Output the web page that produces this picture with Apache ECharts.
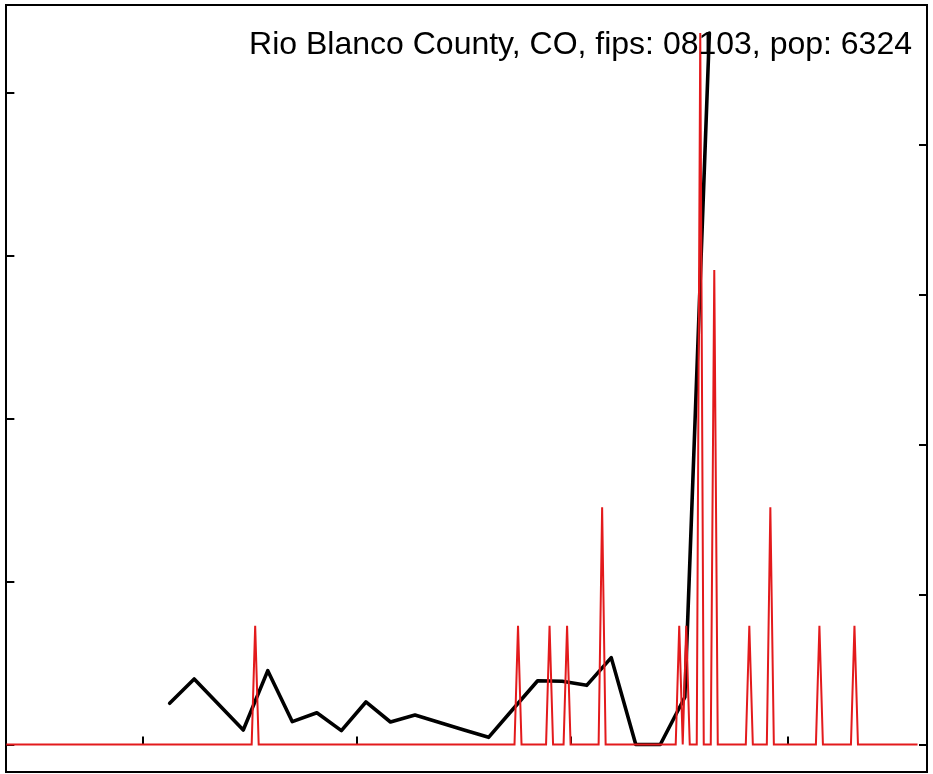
<!DOCTYPE html>
<html>
<head>
<meta charset="utf-8">
<script src="https://cdn.jsdelivr.net/npm/echarts@6/dist/echarts.min.js"></script>
<style>
html,body{margin:0;padding:0;background:#fff;}
#chart{width:933px;height:774px;}
</style>
</head>
<body>
<div id="chart"></div>
<script>
// ---- data (x = days since 2020-01-22) ----
var titleText = "Rio Blanco County, CO, fips: 08103, pop: 6324";
var population = 6324;

// daily new cases (red): all days 0..260 are zero except these
var redFirstDay = 0;
var redLastDay = 260;
var redSpikeDays  = [71, 146, 155, 160, 170, 192, 194, 198, 202, 212, 218, 232, 242];
var redSpikeCases = [ 1,   1,   1,   1,   2,   1,   1,   6,   4,   1,   2,   1,   1];

// weekly smoothed series (black), left-axis units
var blackDays = [46.6, 53.6, 60.6, 67.6, 74.6, 81.6, 88.6, 95.6, 102.6, 109.6, 116.6, 123.6,
                 130.6, 137.6, 144.6, 151.6, 158.6, 165.6, 172.6, 179.6, 186.6, 193.6, 200.6];
var blackValues = [2.53, 4.02, 2.45, 0.89, 4.53, 1.40, 1.95, 0.85, 2.61, 1.38, 1.81, 1.35,
                   0.89, 0.44, 2.18, 3.91, 3.88, 3.63, 5.33, 0, 0, 2.90, 43.65];

// tick positions (no labels shown in the reference)
var xTickDays   = [39, 100, 161, 223];          // Mar 1, May 1, Jul 1, Sep 1
var leftTicks   = [0, 10, 20, 30, 40];
var rightTicks  = [0, 20, 40, 60, 80];          // cases per 100k

// ---- build series ----
var redMap = {};
for (var i = 0; i < redSpikeDays.length; i++) redMap[redSpikeDays[i]] = redSpikeCases[i];
var redData = [];
for (var d = redFirstDay; d <= redLastDay; d++) {
  var c = redMap[d] || 0;
  redData.push([d, c * 100000 / population]);
}
var blackData = blackDays.map(function (d, i) { return [d, blackValues[i]]; });

var chart = echarts.init(document.getElementById('chart'), null, {renderer: 'canvas'});
var tickStyle = {color: '#000', width: 2};
chart.setOption({
  backgroundColor: '#fff',
  animation: false,
  grid: {left: 6, top: 5, width: 921, height: 767, show: true, borderColor: '#000', borderWidth: 2, backgroundColor: 'transparent'},
  xAxis: {
    type: 'value', min: -0.1, max: 262.7,
    axisLine: {show: false},
    axisTick: {show: true, inside: true, length: 8, lineStyle: tickStyle, customValues: xTickDays},
    axisLabel: {show: false},
    splitLine: {show: false}
  },
  yAxis: [{
    type: 'value', position: 'left', min: -1.687, max: 45.37,
    axisLine: {show: false},
    axisTick: {show: true, inside: true, length: 8, lineStyle: tickStyle, customValues: leftTicks},
    axisLabel: {show: false},
    splitLine: {show: false}
  }, {
    type: 'value', position: 'right', min: -3.667, max: 98.6,
    axisLine: {show: false},
    axisTick: {show: true, inside: true, length: 8, lineStyle: tickStyle, customValues: rightTicks},
    axisLabel: {show: false},
    splitLine: {show: false}
  }],
  series: [{
    type: 'line', yAxisIndex: 0, data: blackData, symbol: 'none',
    lineStyle: {color: '#000', width: 3.6, cap: 'round', join: 'round'},
    z: 2
  }, {
    type: 'line', yAxisIndex: 1, data: redData, symbol: 'none',
    lineStyle: {color: '#e31a1c', width: 2, join: 'miter'},
    z: 3
  }],
  graphic: [{
    type: 'text', right: 21, top: 29, z: 10,
    style: {text: titleText, fill: '#000', fontSize: 32, fontFamily: '"Liberation Sans", Arial, sans-serif'}
  }]
});
</script>
</body>
</html>
